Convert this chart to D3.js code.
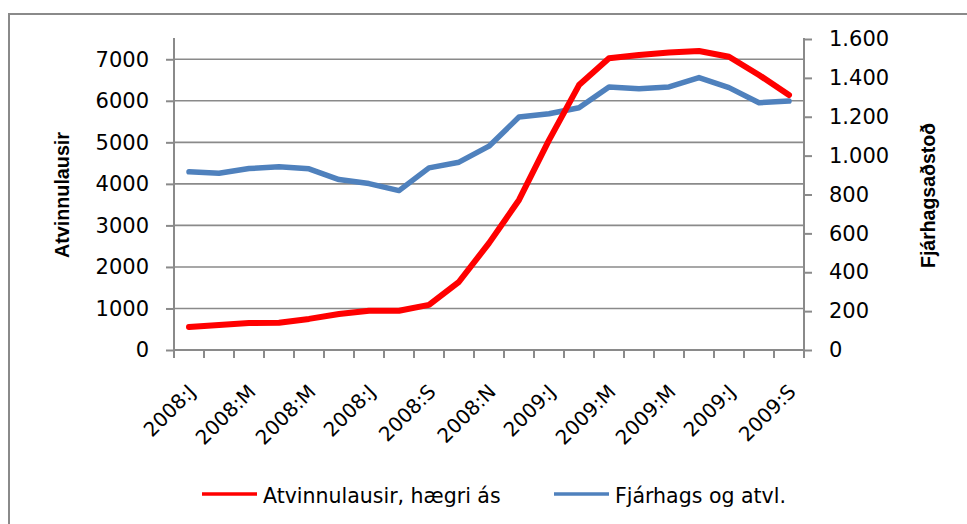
<!DOCTYPE html>
<html>
<head>
<meta charset="utf-8">
<script src="https://cdn.jsdelivr.net/npm/d3@7"></script>
<style>
  body { margin: 0; background: #fff; }
  svg { display: block; }
</style>
</head>
<body>
<script>
// months of 2008 and 2009, Icelandic initials
var categories = ['2008:J','2008:F','2008:M','2008:A','2008:M','2008:J','2008:J','2008:Á','2008:S','2008:O','2008:N','2008:D',
                  '2009:J','2009:F','2009:M','2009:A','2009:M','2009:J','2009:J','2009:Á','2009:S'];

// red line, read against the right axis
var atvinnulausir = [118, 129, 139, 140, 160, 185, 202, 202, 232, 351, 550, 772, 1080, 1363, 1501, 1518, 1530, 1538, 1509, 1415, 1312];
// blue line, read against the left axis
var fjarhags = [4290, 4256, 4369, 4410, 4362, 4104, 4007, 3838, 4386, 4522, 4908, 5608, 5689, 5834, 6333, 6293, 6333, 6558, 6317, 5955, 5994];

var leftTicks = [0, 1000, 2000, 3000, 4000, 5000, 6000, 7000];
var rightTicks = [0, 200, 400, 600, 800, 1000, 1200, 1400, 1600];
var legendNames = ['Atvinnulausir, hægri ás', 'Fjárhags og atvl.'];

var width = 967, height = 524;
var gray = '#8a8a8a';

var svg = d3.select('body').append('svg')
  .attr('width', width)
  .attr('height', height);

// outer frame (only top and left edges are visible)
svg.append('path')
  .attr('d', 'M9,' + height + 'V14H' + width)
  .attr('fill', 'none')
  .attr('stroke', gray)
  .attr('stroke-width', 2);

var x = d3.scaleBand().domain(d3.range(categories.length)).range([174, 804]);
var yL = d3.scaleLinear().domain([0, 7500]).range([350, 38.5]);
var yR = d3.scaleLinear().domain([0, 1600]).range([350, 39]);

var isFmt = d3.formatLocale({decimal: ',', thousands: '.', grouping: [3], currency: ['', '']}).format(',d');

// gridlines
svg.append('g').selectAll('line')
  .data(leftTicks.slice(1))
  .enter().append('line')
  .attr('x1', 174).attr('x2', 804)
  .attr('y1', function(d) { return yL(d); })
  .attr('y2', function(d) { return yL(d); })
  .attr('stroke', gray)
  .attr('stroke-width', 1.6);

// left axis
var gL = svg.append('g')
  .attr('transform', 'translate(174,0)')
  .call(d3.axisLeft(yL).tickValues(leftTicks).tickFormat(d3.format('d')).tickSize(8).tickPadding(17).tickSizeOuter(0));
// right axis
var gR = svg.append('g')
  .attr('transform', 'translate(804,0)')
  .call(d3.axisRight(yR).tickValues(rightTicks).tickFormat(isFmt).tickSize(8).tickPadding(17).tickSizeOuter(0));

[gL, gR].forEach(function(g) {
  g.selectAll('.domain').attr('stroke', gray).attr('stroke-width', 2);
  g.selectAll('.tick line').attr('stroke', gray).attr('stroke-width', 2);
  g.selectAll('.tick text')
    .attr('fill', '#000')
    .style('font-family', 'DejaVu Sans')
    .style('font-size', '21px');
});
gL.select('.domain').attr('d', 'M0,350V38');
gR.select('.domain').attr('d', 'M0,350V38');

// x axis: line, boundary ticks, rotated labels
var gX = svg.append('g');
gX.append('line')
  .attr('x1', 174).attr('x2', 804)
  .attr('y1', 350).attr('y2', 350)
  .attr('stroke', gray).attr('stroke-width', 2);
gX.selectAll('line.tk')
  .data(d3.range(categories.length + 1))
  .enter().append('line')
  .attr('class', 'tk')
  .attr('x1', function(i) { return 174 + i * x.bandwidth(); })
  .attr('x2', function(i) { return 174 + i * x.bandwidth(); })
  .attr('y1', 350).attr('y2', 358)
  .attr('stroke', gray).attr('stroke-width', 2);
gX.selectAll('text')
  .data(categories.map(function(c, i) { return [c, i]; }).filter(function(d) { return d[1] % 2 == 0; }))
  .enter().append('text')
  .attr('transform', function(d) {
    return 'translate(' + (x(d[1]) + x.bandwidth() / 2 + 8) + ',393) rotate(-45)';
  })
  .attr('text-anchor', 'end')
  .style('font-family', 'DejaVu Sans')
  .style('font-size', '20px')
  .text(function(d) { return d[0]; });

// axis titles
svg.append('text')
  .attr('transform', 'translate(69,195) rotate(-90)')
  .attr('text-anchor', 'middle')
  .attr('textLength', 126)
  .attr('lengthAdjust', 'spacingAndGlyphs')
  .style('font-family', 'Liberation Sans')
  .style('font-weight', 'bold')
  .style('font-size', '21px')
  .text('Atvinnulausir');
svg.append('text')
  .attr('transform', 'translate(935,195.5) rotate(-90)')
  .attr('text-anchor', 'middle')
  .attr('textLength', 145)
  .attr('lengthAdjust', 'spacingAndGlyphs')
  .style('font-family', 'Liberation Sans')
  .style('font-weight', 'bold')
  .style('font-size', '21px')
  .text('Fjárhagsaðstoð');

// lines
var cx = function(d, i) { return x(i) + x.bandwidth() / 2; };
svg.append('path')
  .datum(fjarhags)
  .attr('fill', 'none')
  .attr('stroke', '#4f81bd')
  .attr('stroke-width', 5.5)
  .attr('stroke-linejoin', 'round')
  .attr('stroke-linecap', 'round')
  .attr('d', d3.line().x(cx).y(function(d) { return yL(d); }));
svg.append('path')
  .datum(atvinnulausir)
  .attr('fill', 'none')
  .attr('stroke', '#ff0000')
  .attr('stroke-width', 6)
  .attr('stroke-linejoin', 'round')
  .attr('stroke-linecap', 'round')
  .attr('d', d3.line().x(cx).y(function(d) { return yR(d); }));

// legend
var legendX = [202, 554];
var legendColors = ['#ff0000', '#4f81bd'];
var lg = svg.append('g').selectAll('g')
  .data(legendNames)
  .enter().append('g')
  .attr('transform', function(d, i) { return 'translate(' + legendX[i] + ',494)'; });
lg.append('line')
  .attr('x1', 0).attr('x2', 55)
  .attr('stroke', function(d, i) { return legendColors[i]; })
  .attr('stroke-width', 3.5);
lg.append('text')
  .attr('x', 61).attr('y', 9)
  .style('font-family', 'DejaVu Sans')
  .style('font-size', '20.5px')
  .text(function(d) { return d; });
</script>
</body>
</html>
